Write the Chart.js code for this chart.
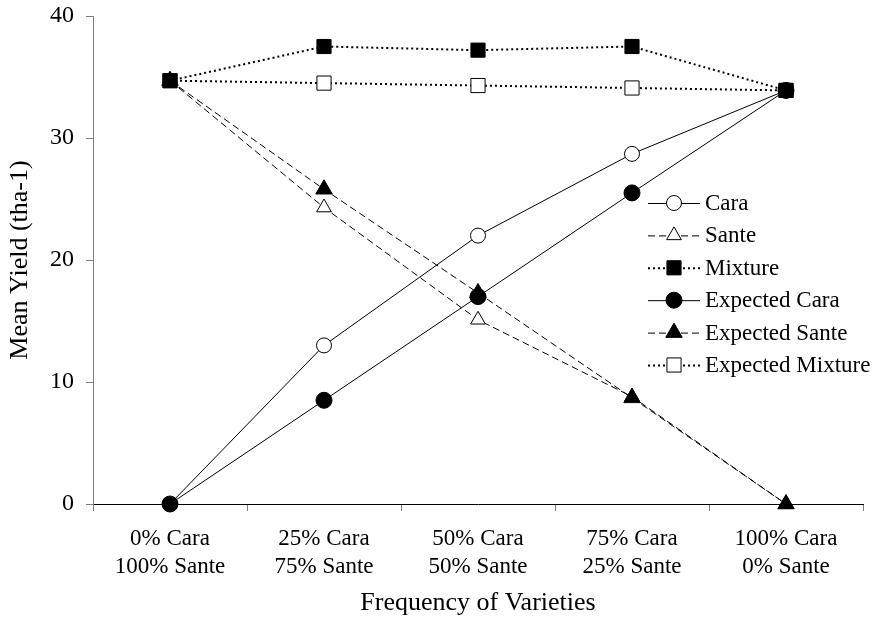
<!DOCTYPE html>
<html>
<head>
<meta charset="utf-8">
<script src="https://cdn.jsdelivr.net/npm/chart.js@4.4.1/dist/chart.umd.min.js"></script>
<style>
  body { margin: 0; background: #fff; }
  #wrap { width: 874px; height: 617px; }
</style>
</head>
<body>
<div id="wrap"><canvas id="yieldChart" width="874" height="617"></canvas></div>
<script>
const categories = [
  ['0% Cara', '100% Sante'],
  ['25% Cara', '75% Sante'],
  ['50% Cara', '50% Sante'],
  ['75% Cara', '25% Sante'],
  ['100% Cara', '0% Sante']
];
const yTicks = [0, 10, 20, 30, 40];

const cara = [0, 13.0, 22.0, 28.7, 33.9];
const sante = [34.7, 24.3, 15.1, 8.8, 0];
const mixture = [34.7, 37.5, 37.2, 37.5, 33.9];
const expectedCara = [0, 8.5, 17.0, 25.5, 33.9];
const expectedSante = [34.7, 25.8, 17.3, 8.7, 0];
const expectedMixture = [34.7, 34.5, 34.3, 34.1, 33.9];

const serif = "'Liberation Serif', 'Times New Roman', serif";
const dashed = [7, 4];
const dotted = [2, 3];

function series(label, data, style, filled, radius, dash, width, order) {
  return {
    label: label,
    data: data,
    borderColor: '#000',
    borderWidth: width,
    borderDash: dash,
    pointStyle: style,
    pointRadius: radius,
    pointHoverRadius: radius,
    pointBorderWidth: 1,
    pointBorderColor: '#000',
    pointBackgroundColor: filled ? '#000' : '#fff',
    tension: 0,
    fill: false,
    clip: false,
    order: order
  };
}

// legend drawn inside the plot, like the original
const insideLegend = {
  id: 'insideLegend',
  afterDraw(chart) {
    const ctx = chart.ctx;
    const x0 = 648, x1 = 700, mx = 674, tx = 705;
    let y = 203;
    chart.data.datasets.forEach(ds => {
      ctx.save();
      ctx.strokeStyle = '#000';
      ctx.lineWidth = ds.borderWidth;
      ctx.setLineDash(ds.borderDash || []);
      ctx.beginPath();
      ctx.moveTo(x0, y + 0.5);
      ctx.lineTo(x1, y + 0.5);
      ctx.stroke();
      ctx.setLineDash([]);
      ctx.fillStyle = ds.pointBackgroundColor;
      ctx.strokeStyle = '#000';
      ctx.lineWidth = 1;
      Chart.helpers.drawPoint(ctx, {
        pointStyle: ds.pointStyle,
        radius: ds.pointRadius,
        rotation: 0,
        borderWidth: 1
      }, mx, y);
      ctx.fillStyle = '#000';
      ctx.font = '23px ' + serif;
      ctx.textBaseline = 'middle';
      ctx.textAlign = 'left';
      ctx.fillText(ds.label, tx, y + 1);
      ctx.restore();
      y += 32.4;
    });
  }
};

const ctx = document.getElementById('yieldChart').getContext('2d');
new Chart(ctx, {
  type: 'line',
  data: {
    labels: categories,
    datasets: [
      series('Cara', cara, 'circle', false, 7.5, [], 1, 1),
      series('Sante', sante, 'triangle', false, 8.5, dashed, 1, 1),
      series('Mixture', mixture, 'rect', true, 10, dotted, 2, 0),
      series('Expected Cara', expectedCara, 'circle', true, 8, [], 1, 0),
      series('Expected Sante', expectedSante, 'triangle', true, 9.5, dashed, 1, 0),
      series('Expected Mixture', expectedMixture, 'rect', false, 10, dotted, 2, 1)
    ]
  },
  options: {
    responsive: false,
    animation: false,
    layout: { padding: { left: 0, right: 11, top: 16, bottom: 0 } },
    plugins: {
      legend: { display: false },
      tooltip: { enabled: false }
    },
    scales: {
      x: {
        offset: true,
        grid: {
          offset: true,
          drawOnChartArea: false,
          drawTicks: true,
          tickLength: 7,
          color: '#808080'
        },
        border: { color: '#000', width: 1 },
        ticks: {
          color: '#000',
          padding: 14,
          maxRotation: 0,
          autoSkip: false,
          font: { family: serif, size: 23, lineHeight: 1.22 }
        },
        title: {
          display: true,
          text: 'Frequency of Varieties',
          color: '#000',
          padding: { top: 0, bottom: 0 },
          font: { family: serif, size: 26, lineHeight: 1.1 }
        },
        afterFit(scale) { scale.height = 113; }
      },
      y: {
        min: 0,
        max: 40,
        afterBuildTicks(scale) { scale.ticks = yTicks.map(v => ({ value: v })); },
        grid: {
          drawOnChartArea: false,
          drawTicks: true,
          tickLength: 7,
          color: '#808080'
        },
        border: { color: '#808080', width: 1 },
        ticks: {
          color: '#000',
          padding: 12,
          font: { family: serif, size: 24 }
        },
        title: {
          display: true,
          text: 'Mean Yield (tha-1)',
          color: '#000',
          padding: { top: 6, bottom: 0 },
          font: { family: serif, size: 26, lineHeight: 1.1 }
        },
        afterFit(scale) {
          scale.width = 93;
          scale.paddingTop = 0;
          scale.paddingBottom = 0;
        }
      }
    }
  },
  plugins: [insideLegend]
});
</script>
</body>
</html>
